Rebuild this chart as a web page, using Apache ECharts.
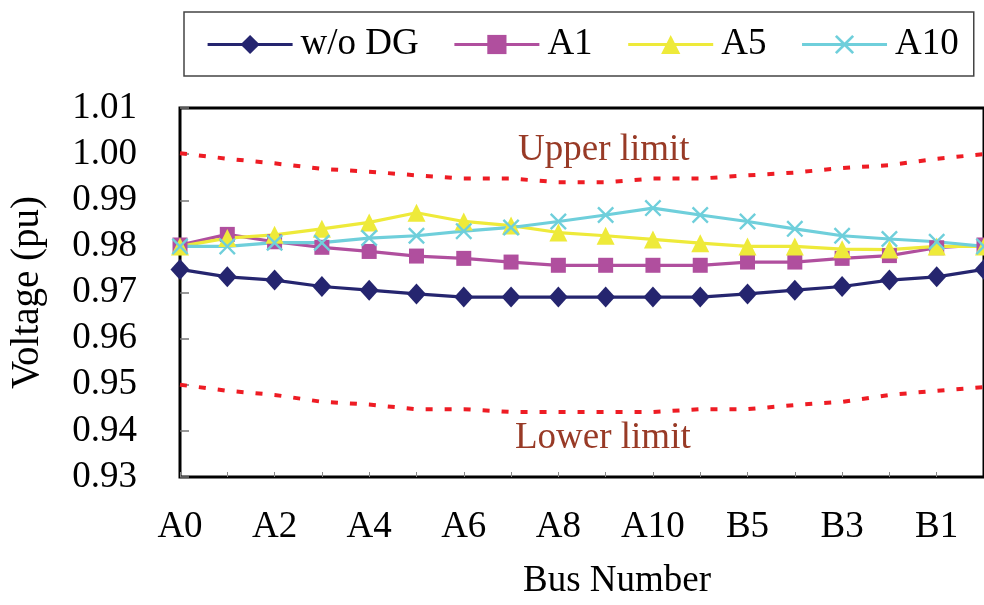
<!DOCTYPE html>
<html>
<head>
<meta charset="utf-8">
<script src="https://cdn.jsdelivr.net/npm/echarts@6/dist/echarts.min.js"></script>
<style>
html,body{margin:0;padding:0;background:#fff;}
#c{width:984px;height:605px;}
</style>
</head>
<body>
<div id="c"></div>
<script>
const categories = ['A0','A1','A2','A3','A4','A5','A6','A7','A8','A9','A10','B6','B5','B4','B3','B2','B1','B0'];
const woDG = [0.9750, 0.9734, 0.9727, 0.9713, 0.9705, 0.9697, 0.9690, 0.9690, 0.9690, 0.9690, 0.9690, 0.9690, 0.9697, 0.9705, 0.9713, 0.9727, 0.9734, 0.9750];
const a1 = [0.9803, 0.9826, 0.9810, 0.9798, 0.9789, 0.9779, 0.9774, 0.9766, 0.9759, 0.9759, 0.9759, 0.9759, 0.9766, 0.9766, 0.9774, 0.9780, 0.9797, 0.9803];
const a5 = [0.9800, 0.9818, 0.9825, 0.9838, 0.9852, 0.9873, 0.9854, 0.9845, 0.9830, 0.9823, 0.9815, 0.9807, 0.9800, 0.9800, 0.9794, 0.9793, 0.9800, 0.9800];
const a10 = [0.9800, 0.9800, 0.9808, 0.9808, 0.9818, 0.9823, 0.9833, 0.9841, 0.9854, 0.9868, 0.9883, 0.9868, 0.9854, 0.9838, 0.9823, 0.9816, 0.9810, 0.9800];
const upperLimit = [1.0002, 0.9990, 0.9980, 0.9968, 0.9962, 0.9954, 0.9947, 0.9947, 0.9939, 0.9939, 0.9947, 0.9947, 0.9954, 0.9960, 0.9970, 0.9976, 0.9990, 1.0000];
const lowerLimit = [0.9500, 0.9487, 0.9478, 0.9463, 0.9457, 0.9447, 0.9447, 0.9441, 0.9441, 0.9441, 0.9441, 0.9447, 0.9447, 0.9456, 0.9463, 0.9478, 0.9487, 0.9495];
const seriesNames = ['w/o DG', 'A1', 'A5', 'A10'];

const FONT = 'Liberation Serif';
const FS = 37;
const xSymbol = 'path://M0,1 L1,0 L5,4 L9,0 L10,1 L6,5 L10,9 L9,10 L5,6 L1,10 L0,9 L4,5 Z';

const chart = echarts.init(document.getElementById('c'), null, {renderer: 'canvas'});

function mainSeries(name, data, color, symbol, size) {
  return {
    name: name, type: 'line', data: data,
    symbol: symbol, symbolSize: size,
    lineStyle: {color: color, width: 3.2},
    itemStyle: {color: color},
    emphasis: {disabled: true},
    animation: false
  };
}
function limitSeries(name, data) {
  return {
    name: name, type: 'line', data: data, symbol: 'none',
    lineStyle: {color: '#ee1c24', width: 4, type: [7, 12]},
    emphasis: {disabled: true}, animation: false, silent: true, z: 1
  };
}

chart.setOption({
  animation: false,
  backgroundColor: '#fff',
  textStyle: {fontFamily: FONT},
  grid: {left: 180, right: -2, top: 108, bottom: 127, show: true, borderColor: '#000', borderWidth: 3, containLabel: false},
  legend: {
    data: seriesNames,
    left: 184, top: 12,
    padding: [14, 15, 13, 22],
    itemGap: 34,
    itemWidth: 85, itemHeight: 24,
    lineStyle: {width: 3.2},
    borderColor: '#444', borderWidth: 1.5,
    textStyle: {fontFamily: FONT, fontSize: FS, color: '#000', padding: [0, 0, 0, 3]},
    selectedMode: false
  },
  xAxis: {
    type: 'category', data: categories, boundaryGap: false,
    axisLine: {show: false},
    axisTick: {show: true, inside: true, length: 5, interval: 0, lineStyle: {color: '#888', width: 1}},
    axisLabel: {interval: 1, margin: 32, fontFamily: FONT, fontSize: FS, color: '#000'},
    splitLine: {show: false},
    name: 'Bus Number', nameLocation: 'middle', nameGap: 86,
    nameTextStyle: {fontFamily: FONT, fontSize: FS, color: '#000', padding: [0, 0, 0, 70]}
  },
  yAxis: {
    type: 'value', min: 0.93, max: 1.01, interval: 0.01,
    axisLine: {show: false},
    axisTick: {show: true, inside: true, length: 9, lineStyle: {color: '#777', width: 1.5}},
    axisLabel: {margin: 43, fontFamily: FONT, fontSize: FS, color: '#000', formatter: v => v.toFixed(2)},
    splitLine: {show: false},
    name: 'Voltage (pu)', nameLocation: 'middle', nameGap: 133, nameRotate: 90,
    nameTextStyle: {fontFamily: FONT, fontSize: 39, color: '#000'}
  },
  graphic: [
    {type: 'text', left: 518, top: 132, style: {text: 'Upper limit', fontFamily: FONT, fontSize: FS, fill: '#983a26'}},
    {type: 'text', left: 515, top: 420, style: {text: 'Lower limit', fontFamily: FONT, fontSize: FS, fill: '#983a26'}}
  ],
  series: [
    limitSeries('Upper limit', upperLimit),
    limitSeries('Lower limit', lowerLimit),
    mainSeries('w/o DG', woDG, '#25256f', 'diamond', [19, 21]),
    mainSeries('A1', a1, '#b04f9e', 'rect', 15),
    mainSeries('A5', a5, '#eeea3a', 'triangle', 18),
    mainSeries('A10', a10, '#6fcfdb', xSymbol, 17)
  ]
});
</script>
</body>
</html>
